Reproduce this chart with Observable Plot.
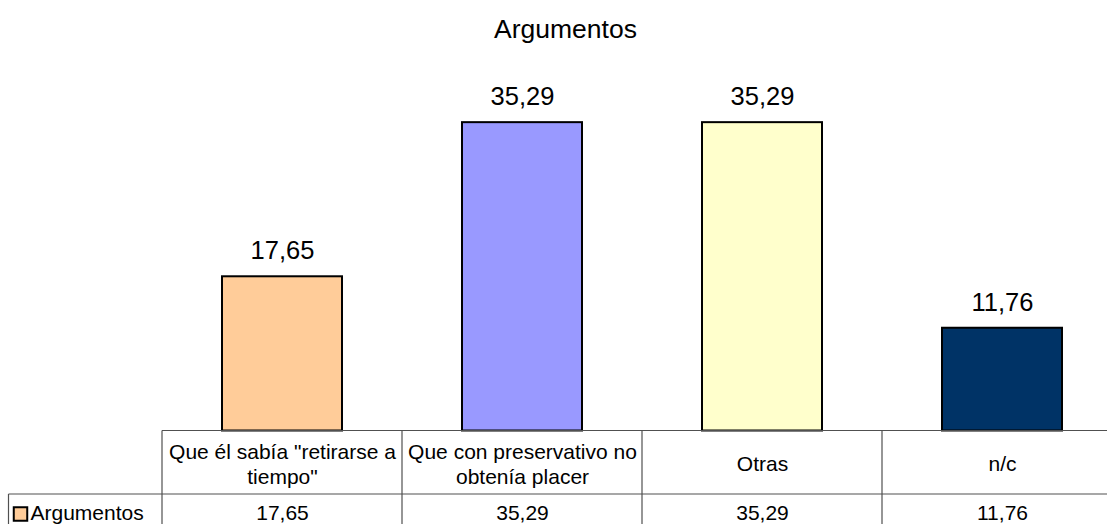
<!DOCTYPE html>
<html>
<head>
<meta charset="utf-8">
<script src="https://cdn.jsdelivr.net/npm/d3@7"></script>
<script src="https://cdn.jsdelivr.net/npm/@observablehq/plot@0.6"></script>
<style>
  html, body { margin: 0; padding: 0; background: #fff; }
  #chart svg { display: block; }
</style>
</head>
<body>
<div id="chart"></div>
<script>
// ---- data ----
const title = "Argumentos";
const seriesName = "Argumentos";
const categories = ["Que él sabía \"retirarse a tiempo\"", "Que con preservativo no obtenía placer", "Otras", "n/c"];
const headerLabels = ["Que él sabía \"retirarse a\ntiempo\"", "Que con preservativo no\nobtenía placer", "Otras", "n/c"];
const values = [17.65, 35.29, 35.29, 11.76];
const valueLabels = ["17,65", "35,29", "35,29", "11,76"];
const barColors = ["#FFCC99", "#9999FF", "#FFFFCC", "#003366"];
const yDomain = [0, 40];

const rows = categories.map((c, i) => ({category: c, header: headerLabels[i], value: values[i], label: valueLabels[i]}));

const font = "'Liberation Sans', Arial, sans-serif";

// table grid drawn from the x/y scales
function tableGrid(index, scales, vals, dims) {
  const x = scales.x, y = scales.y;
  const xs = categories.map(c => x(c));
  const bw = typeof x.bandwidth === "number" ? x.bandwidth
           : typeof x.bandwidth === "function" ? x.bandwidth() : (xs[1] - xs[0]);
  const y0 = y(0);
  const row1 = y0 + 63.5;
  const bottom = dims.height + 2;
  const right = xs[xs.length - 1] + bw;
  const legendLeft = 8.5;
  const g = d3.create("svg:g").attr("stroke", "#505050").attr("stroke-width", 1.2).attr("fill", "none");
  g.append("line").attr("x1", xs[0]).attr("x2", right).attr("y1", y0).attr("y2", y0);
  g.append("line").attr("x1", legendLeft).attr("x2", right).attr("y1", row1).attr("y2", row1);
  g.append("line").attr("x1", legendLeft).attr("x2", legendLeft).attr("y1", row1).attr("y2", bottom);
  for (const xv of [...xs, right]) {
    g.append("line").attr("x1", xv).attr("x2", xv).attr("y1", y0).attr("y2", bottom);
  }
  return g.node();
}

const chart = Plot.plot({
  width: 1107,
  height: 524,
  marginTop: 81,
  marginBottom: 93.5,
  marginLeft: 160,
  marginRight: 0,
  style: {fontFamily: font, background: "#fff", color: "#000", overflow: "visible"},
  x: {type: "band", domain: categories, range: [160.5, 1123.3], padding: 0, axis: null},
  y: {domain: yDomain, axis: null},
  color: {domain: categories, range: barColors},
  marks: [
    Plot.barY(rows, {x: "category", y: "value", fill: "category", stroke: "#000", strokeWidth: 2, insetLeft: 60, insetRight: 60}),
    Plot.text(rows, {x: "category", y: "value", text: "label", fontSize: 25.5, lineAnchor: "middle", dy: -25.5, fill: "#000"}),
    tableGrid,
    Plot.text(rows, {x: "category", y: () => 0, text: "header", fontSize: 21, lineHeight: 1.2, lineAnchor: "middle", dy: 32.3, fill: "#000"}),
    Plot.text(rows, {x: "category", y: () => 0, text: "label", fontSize: 21, lineAnchor: "middle", dy: 82.3, fill: "#000"}),
    Plot.dot([seriesName], {frameAnchor: "bottom-left", dx: -140, dy: 83, symbol: "square", r: 7.6, fill: barColors[0], stroke: "#000", strokeWidth: 2}),
    Plot.text([seriesName], {frameAnchor: "bottom-left", text: d => d, dx: -130, dy: 82.5, textAnchor: "start", lineAnchor: "middle", fontSize: 21, fill: "#000"}),
    Plot.text([title], {frameAnchor: "top-left", text: d => d, dx: 405, dy: -52, textAnchor: "middle", lineAnchor: "middle", fontSize: 26.5, fill: "#000"})
  ]
});

document.getElementById("chart").appendChild(chart);
</script>
</body>
</html>
